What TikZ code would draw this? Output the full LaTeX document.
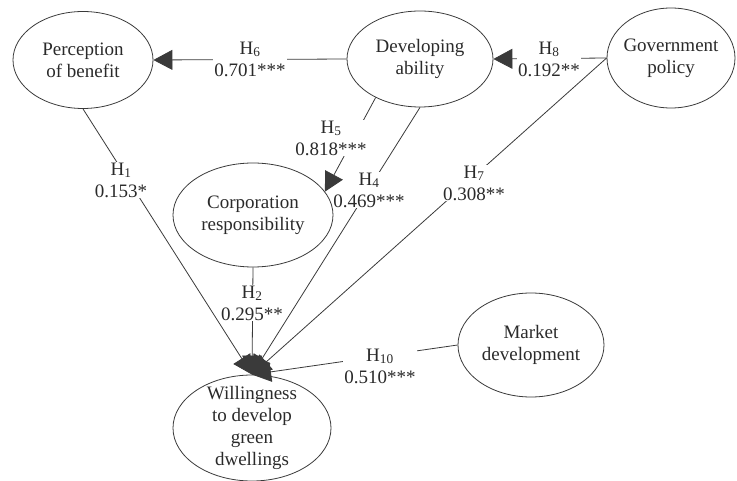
\documentclass[tikz,border=0pt]{standalone}
\usepackage{fontspec}
\setmainfont{Liberation Serif}
\usetikzlibrary{shapes.geometric,arrows.meta}
\definecolor{linecol}{HTML}{3A3A3A}
\definecolor{txtcol}{HTML}{2A2A2A}
\pgfdeclarelayer{fg}
\pgfsetlayers{main,fg}
\begin{document}
\begin{tikzpicture}[x=1pt,y=-1pt,
  latent/.style={ellipse, draw=linecol, line width=0.8pt, inner sep=0pt},
  txt/.style={align=center, text=txtcol, font=\fontsize{19}{22}\selectfont, inner sep=0pt},
  lbl/.style={align=center, text=txtcol, fill=white, font=\fontsize{19}{22}\selectfont, inner sep=1pt},
  conn/.style={draw=linecol, line width=0.8pt, -{Triangle[length=19pt,width=20pt]}}]
\useasboundingbox (0,0) rectangle (737,481);
% latent variables (outlines on the foreground layer)
\begin{pgfonlayer}{fg}
\node[latent, minimum width=140pt, minimum height=97pt] (perc) at (83,60) {};
\node[latent, minimum width=146pt, minimum height=96pt] (dev) at (420,59) {};
\node[latent, minimum width=128pt, minimum height=100pt] (gov) at (671,58) {};
\node[latent, minimum width=160pt, minimum height=104pt] (corp) at (253,215) {};
\node[latent, minimum width=158pt, minimum height=106pt] (will) at (252,428) {};
\node[latent, minimum width=146pt, minimum height=104pt] (mkt) at (531,345) {};
\end{pgfonlayer}
\node[txt] (perct) at (perc) {Perception\\of benefit};
\node[txt] (devt) at (dev) {Developing\\ability};
\node[txt] (govt) at (gov) {Government\\policy};
\node[txt] (corpt) at (corp) {Corporation\\responsibility};
\node[txt] (willt) at (will) {Willingness\\to develop\\green\\dwellings};
\node[txt] (mktt) at (mkt) {Market\\development};
% paths
\draw[conn] (dev.west) -- (perc.east);
\draw[conn] (gov.west) -- (dev.east);
\draw[conn] (perc.south) -- (will.north);
\draw[conn] (corp.south) -- (will.north);
\draw[conn] (dev.south) -- (will.north);
\draw[conn] (gov.west) -- (will.north);
\draw[conn] (mkt.west) -- (will.north);
% labels
\node[lbl] (l6) at (250,59) {H\textsubscript{6}\\0.701***};
\node[lbl] (l8) at (549,59) {H\textsubscript{8}\\0.192**};
\node[lbl] (l1) at (121,180) {H\textsubscript{1}\\0.153*};
\node[lbl] (l4) at (369,190) {H\textsubscript{4}\\0.469***};
\node[lbl] (l7) at (474,183) {H\textsubscript{7}\\0.308**};
\node[lbl] (l2) at (252,303) {H\textsubscript{2}\\0.295**};
\node[lbl] (l10) at (380,366) {H\textsubscript{10}\\0.510***};
% H5 after the H4 label so its arrowhead stays visible
\draw[conn] (dev.221) -- (corp.18);
\node[lbl] (l5) at (331,138) {H\textsubscript{5}\\0.818***};
\end{tikzpicture}
\end{document}
